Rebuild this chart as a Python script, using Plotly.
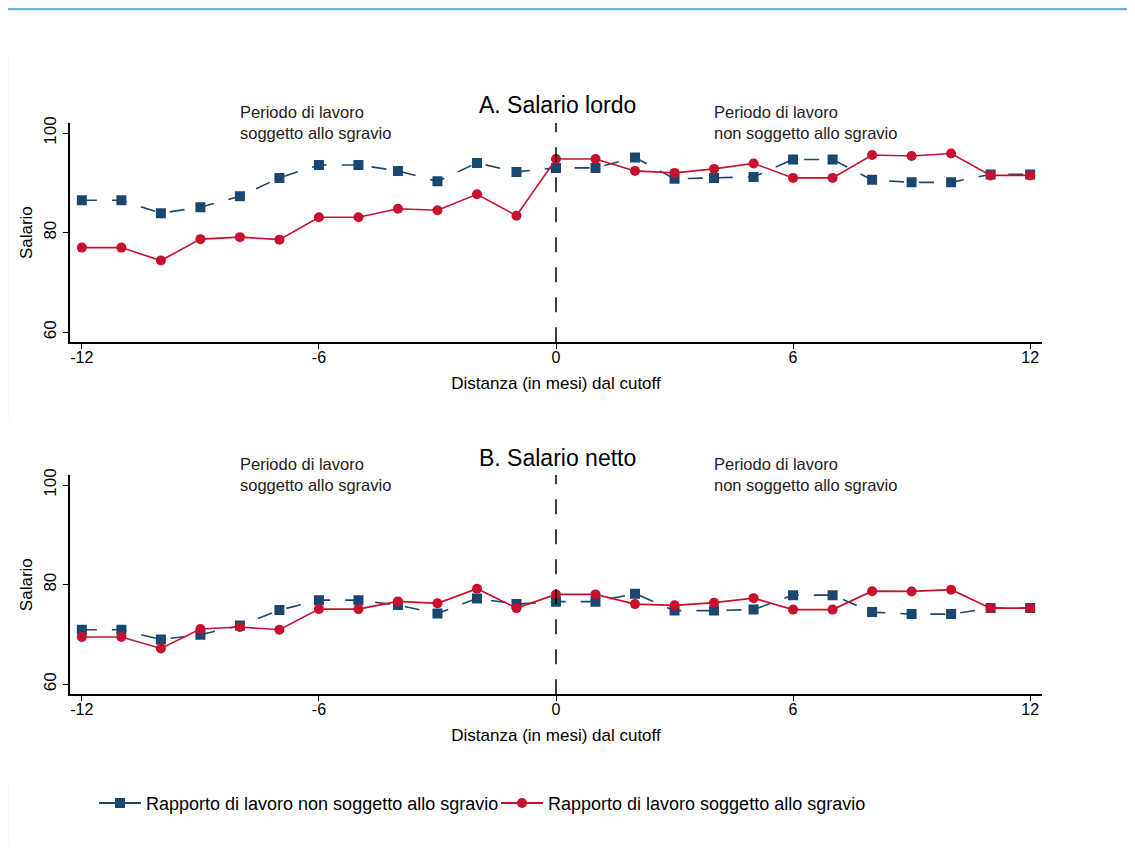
import plotly.graph_objects as go

months = list(range(-12, 13))
x_ticks = [-12, -6, 0, 6, 12]
x_tick_text = ["-12", "-6", "0", "6", "12"]
y_ticks = [60, 80, 100]

lordo_non_soggetto = [86.5, 86.5, 83.9, 85.1, 87.3, 91.0, 93.6, 93.6, 92.4, 90.3, 94.0, 92.2,
                      93.0, 93.0, 95.1, 90.8, 91.0, 91.2, 94.7, 94.7, 90.6, 90.1, 90.1, 91.7, 91.7]
lordo_soggetto = [77.0, 77.0, 74.4, 78.7, 79.1, 78.6, 83.1, 83.1, 84.8, 84.5, 87.7, 83.4,
                  94.8, 94.8, 92.4, 92.0, 92.8, 93.9, 91.0, 91.0, 95.6, 95.4, 95.9, 91.5, 91.5]
netto_non_soggetto = [70.95, 70.95, 69.0, 69.95, 71.8, 74.9, 76.9, 76.9, 75.9, 74.2, 77.25, 76.1,
                      76.6, 76.6, 78.2, 74.8, 74.8, 75.0, 77.9, 77.9, 74.5, 74.1, 74.1, 75.3, 75.3]
netto_soggetto = [69.5, 69.5, 67.2, 71.1, 71.5, 70.95, 75.1, 75.1, 76.65, 76.25, 79.2, 75.3,
                  78.05, 78.05, 76.1, 75.85, 76.4, 77.3, 75.0, 75.0, 78.7, 78.65, 79.0, 75.3, 75.3]

name_non = "Rapporto di lavoro non soggetto allo sgravio"
name_sog = "Rapporto di lavoro soggetto allo sgravio"
panel_titles = ["A. Salario lordo", "B. Salario netto"]
note_left = "Periodo di lavoro<br>soggetto allo sgravio"
note_right = "Periodo di lavoro<br>non soggetto allo sgravio"

BLUE = "#1a476f"
RED = "#c8102e"
FONT = "Liberation Sans, Arial, Helvetica, sans-serif"
OFF_X, OFF_Y = 8, 12
W, H = 1135 - 2 * OFF_X, 857 - OFF_Y - 8

def px_x(p):
    return (p - OFF_X) / W

def px_y(p):
    return 1 - (p - OFF_Y) / H

fig = go.Figure()

panels = [
    ("x", "y", lordo_non_soggetto, lordo_soggetto, (121, 342), panel_titles[0], 103),
    ("x2", "y2", netto_non_soggetto, netto_soggetto, (476, 697), panel_titles[1], 459),
]

for xa, ya, non, sog, (top, bot), title, ty in panels:
    fig.add_trace(go.Scatter(x=months, y=non, xaxis=xa, yaxis=ya, mode="lines+markers",
                             line=dict(color=BLUE, width=1.6, dash="longdash"),
                             marker=dict(symbol="square", size=10, color=BLUE),
                             showlegend=False, name=name_non))
    fig.add_trace(go.Scatter(x=months, y=sog, xaxis=xa, yaxis=ya, mode="lines+markers",
                             line=dict(color=RED, width=1.6),
                             marker=dict(symbol="circle", size=10, color=RED),
                             showlegend=False, name=name_sog))
    fig.add_shape(type="line", xref=xa, yref=ya + " domain", x0=0, x1=0, y0=0, y1=1,
                  line=dict(color="black", width=1.5, dash="longdash"))
    fig.add_annotation(text=title, xref="paper", yref="paper", x=px_x(557), y=px_y(ty),
                       showarrow=False, font=dict(size=23, color="black", family=FONT),
                       xanchor="center", yanchor="middle")
    for xv, note in ((-8, note_left), (4, note_right)):
        fig.add_annotation(text=note, xref=xa, yref="paper", x=xv, y=px_y(top - 1),
                           showarrow=False, xanchor="left", yanchor="middle", align="left",
                           xshift=-2, font=dict(size=16.5, color="#222", family=FONT))

fig.add_trace(go.Scatter(x=[None], y=[None], mode="lines+markers", name=name_non,
                         line=dict(color=BLUE, width=2), marker=dict(symbol="square", size=10, color=BLUE)))
fig.add_trace(go.Scatter(x=[None], y=[None], mode="lines+markers", name=name_sog,
                         line=dict(color=RED, width=2), marker=dict(symbol="circle", size=10, color=RED)))

axis_common_x = dict(range=[-12.3, 12.3], tickvals=x_ticks, ticktext=x_tick_text, ticks="outside", ticklen=5,
                     tickcolor="black", showline=True, linecolor="black", linewidth=1.5,
                     showgrid=False, zeroline=False, tickfont=dict(size=16, color="black", family=FONT),
                     ticklabelstandoff=-5,
                     title=dict(text="Distanza (in mesi) dal cutoff", font=dict(size=17, color="black", family=FONT),
                                standoff=12))
axis_common_y = dict(range=[58, 102], tickvals=y_ticks, ticks="outside", ticklen=5,
                     tickcolor="black", showline=True, linecolor="black", linewidth=1.5,
                     showgrid=False, zeroline=False, tickangle=-90,
                     tickfont=dict(size=17, color="black", family=FONT),
                     title=dict(text="Salario", font=dict(size=17, color="black", family=FONT),
                                standoff=4))

fig.update_layout(
    width=W, height=H,
    margin=dict(l=0, r=0, t=0, b=0),
    paper_bgcolor="white", plot_bgcolor="white",
    font=dict(family=FONT, color="black"),
    xaxis=dict(domain=[px_x(70), px_x(1042)], anchor="y", **axis_common_x),
    yaxis=dict(domain=[px_y(342), px_y(121)], anchor="x", **axis_common_y),
    xaxis2=dict(domain=[px_x(70), px_x(1042)], anchor="y2", **axis_common_x),
    yaxis2=dict(domain=[px_y(697), px_y(476)], anchor="x2", **axis_common_y),
    legend=dict(orientation="h", x=px_x(94), y=px_y(807), xanchor="left", yanchor="middle",
                font=dict(size=18, color="black", family=FONT), itemwidth=42,
                entrywidth=345, entrywidthmode="pixels",
                bgcolor="rgba(0,0,0,0)", tracegroupgap=0),
    showlegend=True,
)

fig.add_shape(type="line", xref="paper", yref="paper", x0=0, x1=1, y0=px_y(6), y1=px_y(6),
              line=dict(color="#6fb4d6", width=2.5))
fig.add_shape(type="line", xref="paper", yref="paper", x0=px_x(8), x1=px_x(8), y0=px_y(53), y1=px_y(420),
              line=dict(color="#eeeeee", width=1))
fig.add_shape(type="line", xref="paper", yref="paper", x0=px_x(8), x1=px_x(8), y0=px_y(788), y1=px_y(849),
              line=dict(color="#eeeeee", width=1))

fig.write_html("out.html")
